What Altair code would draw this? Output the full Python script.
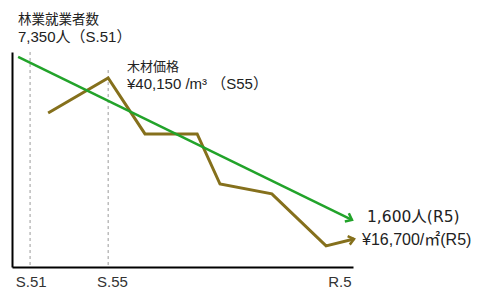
import altair as alt
import pandas as pd

# schematic time axis: 0 = left edge of plot, 100 = right edge
tick_pos = [5.5, 29.3, 96.0]
tick_labels = ["S.51", "S.55", "R.5"]

# 林業就業者数 (relative level, S.51 -> R5)
worker_x = [1.8, 99.7]
worker_y = [97.7, 21.9]

# 木材価格 (relative level, S.51 -> R5)
price_x = [10.6, 28.2, 39.0, 54.3, 61.0, 76.2, 92.1, 100.3]
price_y = [71.6, 87.9, 61.9, 61.9, 38.6, 34.0, 9.8, 13.0]

# dashed reference lines (S.51, S.55)
ref_x = [5.3, 28.2]
ref_top = [100.0, 91.6]

# annotation texts
title_workers = ["林業就業者数", "7,350人（S.51）"]
title_price = ["木材価格", "¥40,150 /m³ （S55）"]
end_labels = ["1,600人(R5)", "¥16,700/㎡(R5)"]

GREEN = "#22a32a"
OLIVE = "#85701c"
FONT = "Liberation Sans, Noto Sans CJK JP"
FONT_END = "DejaVu Sans, Noto Sans CJK JP"
TXT = "#222222"

label_expr = " : ".join(
    f"datum.value == {p} ? '{l}'" for p, l in zip(tick_pos, tick_labels)
) + " : ''"

xs = alt.X(
    "x:Q",
    scale=alt.Scale(domain=[0, 100], nice=False, zero=False),
    axis=alt.Axis(
        values=tick_pos, labelExpr=label_expr, title=None, grid=False,
        ticks=False, domainColor="black", domainWidth=2, labelFontSize=15,
        labelPadding=7, labelFont=FONT, labelColor="#333333",
        labelOverlap=False, labelFlush=False,
    ),
)
ys = alt.Y(
    "y:Q",
    scale=alt.Scale(domain=[0, 100], nice=False, zero=False),
    axis=alt.Axis(labels=False, ticks=False, grid=False, title=None,
                  domainColor="black", domainWidth=2),
)

ref_df = pd.DataFrame({"x": ref_x, "y": ref_top})
rules = alt.Chart(ref_df).mark_rule(
    color="#9a9a9a", strokeDash=[3, 3], strokeWidth=1
).encode(x=xs, y=ys, y2=alt.datum(0))

price_df = pd.DataFrame({"x": price_x, "y": price_y, "o": range(len(price_x))})
price_line = alt.Chart(price_df).mark_line(
    color=OLIVE, strokeWidth=3, strokeJoin="miter"
).encode(x=xs, y=ys, order="o:Q")

worker_df = pd.DataFrame({"x": worker_x, "y": worker_y})
worker_line = alt.Chart(worker_df).mark_line(
    color=GREEN, strokeWidth=2.5
).encode(x=xs, y=ys)

CHEVRON = "M-1,-0.8L0,0L-1,0.8"
worker_head = alt.Chart(
    pd.DataFrame({"x": [worker_x[-1]], "y": [worker_y[-1]]})
).mark_point(
    shape=CHEVRON, filled=False, stroke=GREEN, strokeWidth=2.5,
    size=130, angle=26, opacity=1,
).encode(x=xs, y=ys)

price_head = alt.Chart(
    pd.DataFrame({"x": [price_x[-1]], "y": [price_y[-1]]})
).mark_point(
    shape=CHEVRON, filled=False, stroke=OLIVE, strokeWidth=2.5,
    size=120, angle=346, opacity=1,
).encode(x=xs, y=ys)


def label(text, px, py, size, font=FONT):
    return alt.Chart(pd.DataFrame({"t": [text]})).mark_text(
        align="left", baseline="middle", font=font, fontSize=size, color=TXT
    ).encode(x=alt.value(px), y=alt.value(py), text="t:N")


texts = [
    label(title_workers[0], 6, -32, 13.5),
    label(title_workers[1], 6, -15, 15),
    label(title_price[0], 115, 15, 13),
    label(title_price[1], 115, 32, 15),
    label(end_labels[0], 355, 165, 15.5, FONT_END),
    label(end_labels[1], 350, 188, 16, FONT),
]

chart = alt.layer(rules, price_line, worker_line, worker_head, price_head, *texts).properties(
    width=341,
    height=215,
    padding={"left": 4, "top": 44, "right": 120, "bottom": 22},
    autosize=alt.AutoSizeParams(type="none"),
).configure_view(stroke=None)

chart.save("out.html", embed_options={"renderer": "svg", "actions": False})
